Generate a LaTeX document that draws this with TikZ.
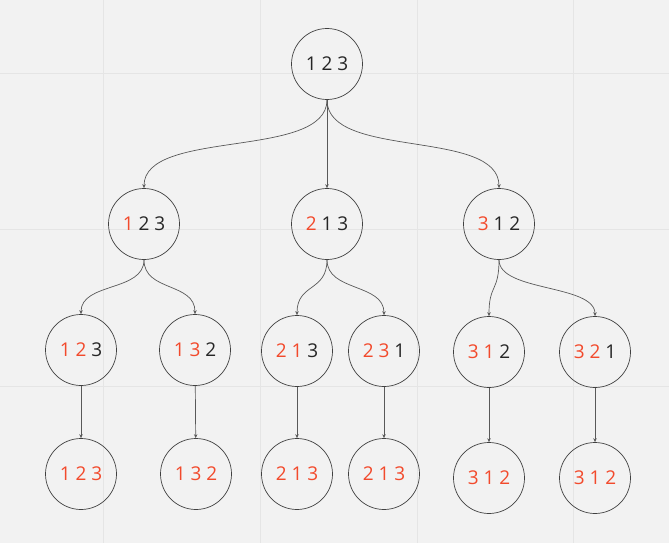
\documentclass[tikz,border=0pt]{standalone}
\usepackage{fontspec}
\setmainfont{Open Sans}
\usetikzlibrary{arrows.meta}
\definecolor{bg}{HTML}{F2F2F2}
\definecolor{gridc}{HTML}{E5E5E5}
\definecolor{rd}{HTML}{F24A2C}
\definecolor{tx}{HTML}{262626}
\newcommand{\R}[1]{\textcolor{rd}{#1}}
\begin{document}
\begin{tikzpicture}[x=1pt,y=-1pt,
  st/.style={circle, draw=black!75, line width=0.7pt, minimum size=71pt, inner sep=0pt, font=\fontsize{19}{21}\selectfont, text=tx},
  arr/.style={draw=black!65, line width=0.7pt, -{Stealth[length=4pt,width=3.5pt]}}]
\fill[bg] (0,0) rectangle (669,543);
\useasboundingbox (0,0) rectangle (669,543);
\foreach \x in {103,260,417,573} \draw[gridc, line width=0.8pt] (\x,0) -- (\x,543);
\foreach \y in {73,229,386} \draw[gridc, line width=0.8pt] (0,\y) -- (669,\y);

\node[st] (r) at (327,64) {1 2 3};
\node[st] (a) at (144,224) {\R{1} 2 3};
\node[st] (b) at (327,224) {\R{2} 1 3};
\node[st] (c) at (499,224) {\R{3} 1 2};

\node[st] (a1) at (81,350) {\R{1} \R{2} 3};
\node[st] (a2) at (195,350) {\R{1} \R{3} 2};
\node[st] (b1) at (297,351) {\R{2} \R{1} 3};
\node[st] (b2) at (384,351) {\R{2} \R{3} 1};
\node[st] (c1) at (489,352) {\R{3} \R{1} 2};
\node[st] (c2) at (595,352) {\R{3} \R{2} 1};

\node[st] (a1x) at (81,474) {\R{1 2 3}};
\node[st] (a2x) at (196,474) {\R{1 3 2}};
\node[st] (b1x) at (297,474) {\R{2 1 3}};
\node[st] (b2x) at (384,474) {\R{2 1 3}};
\node[st] (c1x) at (489,478) {\R{3 1 2}};
\node[st] (c2x) at (595,478) {\R{3 1 2}};

\draw[arr] (r.south) .. controls +(0,60) and +(0,-60) .. (a.north);
\draw[arr] (r.south) -- (b.north);
\draw[arr] (r.south) .. controls +(0,60) and +(0,-60) .. (c.north);

\draw[arr] (a.south) .. controls +(0,32) and +(0,-32) .. (a1.north);
\draw[arr] (a.south) .. controls +(0,32) and +(0,-32) .. (a2.north);
\draw[arr] (b.south) .. controls +(0,32) and +(0,-32) .. (b1.north);
\draw[arr] (b.south) .. controls +(0,32) and +(0,-32) .. (b2.north);
\draw[arr] (c.south) .. controls +(0,32) and +(0,-32) .. (c1.north);
\draw[arr] (c.south) .. controls +(0,32) and +(0,-32) .. (c2.north);

\draw[arr] (a1) -- (a1x);
\draw[arr] (a2) -- (a2x);
\draw[arr] (b1) -- (b1x);
\draw[arr] (b2) -- (b2x);
\draw[arr] (c1) -- (c1x);
\draw[arr] (c2) -- (c2x);
\end{tikzpicture}
\end{document}
